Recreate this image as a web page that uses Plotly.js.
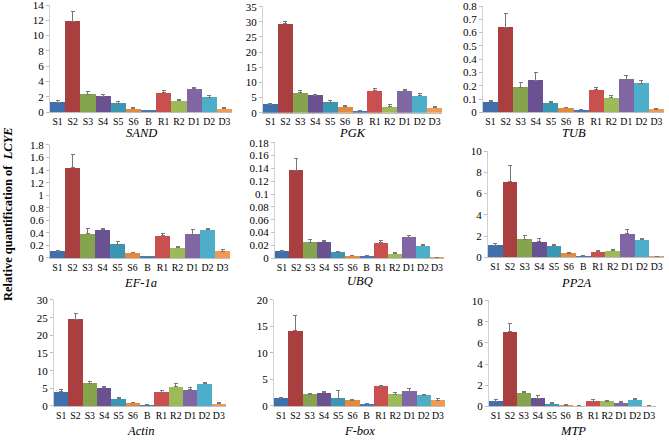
<!DOCTYPE html>
<html>
<head>
<meta charset="utf-8">
<script src="https://cdn.plot.ly/plotly-3.0.1.min.js"></script>
<style>html,body{margin:0;padding:0;background:#fff;}#chart{width:669px;height:440px;}</style>
</head>
<body>
<div id="chart"></div>
<script>
// Categories (samples)
const categories = ["S1","S2","S3","S4","S5","S6","B","R1","R2","D1","D2","D3"];

// Gene names (panel order)
const genes = ["SAND","PGK","TUB","EF-1a","UBQ","PP2A","Actin","F-box","MTP"];

// Relative quantification values per reference gene
const SAND_vals  = [1.3, 11.9, 2.32, 2.06, 1.14, 0.45, 0.2, 2.54, 1.44, 3.06, 1.92, 0.45];
const SAND_err   = [0.25, 1.3, 0.4, 0.2, 0.25, 0.08, 0.05, 0.3, 0.2, 0.2, 0.25, 0.1];
const PGK_vals   = [2.75, 29.3, 6.6, 5.83, 3.5, 1.98, 0.66, 7.26, 1.98, 7.26, 5.6, 1.65];
const PGK_err    = [0.3, 0.7, 0.8, 0.3, 0.4, 0.3, 0.1, 0.7, 0.8, 0.5, 0.8, 0.3];
const TUB_vals   = [0.08, 0.64, 0.188, 0.243, 0.07, 0.033, 0.018, 0.17, 0.108, 0.248, 0.218, 0.023];
const TUB_err    = [0.012, 0.1, 0.04, 0.058, 0.008, 0.004, 0.004, 0.018, 0.022, 0.032, 0.025, 0.004];
const EF1a_vals  = [0.106, 1.44, 0.39, 0.45, 0.222, 0.085, 0.026, 0.355, 0.16, 0.38, 0.45, 0.106];
const EF1a_err   = [0.02, 0.21, 0.075, 0.027, 0.045, 0.01, 0.005, 0.03, 0.02, 0.08, 0.016, 0.026];
const UBQ_vals   = [0.0109, 0.1368, 0.0249, 0.0259, 0.0093, 0.0036, 0.0036, 0.0244, 0.0073, 0.0326, 0.0197, 0.0016];
const UBQ_err    = [0.0015, 0.019, 0.0036, 0.002, 0.001, 0.0005, 0.0005, 0.0026, 0.0015, 0.003, 0.002, 0.0003];
const PP2A_vals  = [1.13, 7.12, 1.69, 1.47, 1.07, 0.38, 0.16, 0.5, 0.6, 2.23, 1.63, 0.09];
const PP2A_err   = [0.2, 1.47, 0.4, 0.28, 0.12, 0.05, 0.04, 0.12, 0.18, 0.34, 0.1, 0.03];
const Actin_vals = [4.06, 24.6, 6.4, 5.2, 2.08, 0.85, 0.3, 3.96, 5.38, 4.62, 6.23, 0.66];
const Actin_err  = [0.66, 1.6, 0.66, 0.3, 0.3, 0.15, 0.1, 0.56, 1.1, 0.56, 0.47, 0.25];
const Fbox_vals  = [1.45, 14.2, 2.2, 2.5, 1.45, 1.13, 0.44, 3.7, 2.2, 2.77, 2.0, 1.13];
const Fbox_err   = [0.2, 2.8, 0.25, 0.3, 1.45, 0.1, 0.05, 0.25, 0.44, 0.44, 0.25, 0.25];
const MTP_vals   = [0.5, 7.07, 1.26, 0.76, 0.25, 0.1, 0.06, 0.5, 0.47, 0.35, 0.6, 0.03];
const MTP_err    = [0.1, 0.8, 0.16, 0.22, 0.07, 0.03, 0.02, 0.12, 0.1, 0.06, 0.12, 0.02];

// Y axis ranges and tick steps per panel
const yMax  = [14, 35, 0.8, 1.8, 0.18, 10, 30, 20, 10];
const yStep = [2, 5, 0.1, 0.2, 0.02, 2, 5, 5, 2];

// Bar colours per category
const barColors = ["#3f6fad","#a93f3f","#86a44d","#6a5192","#3a96b2","#e48a3c",
                   "#4678b8","#c9504e","#9cbb58","#8166a4","#4caec8","#f39a52"];

const allVals = [SAND_vals, PGK_vals, TUB_vals, EF1a_vals, UBQ_vals, PP2A_vals, Actin_vals, Fbox_vals, MTP_vals];
const allErr  = [SAND_err, PGK_err, TUB_err, EF1a_err, UBQ_err, PP2A_err, Actin_err, Fbox_err, MTP_err];

// Panel placement in pixels: [left, right, top, bottom]
const W = 669, H = 440;
const boxes = [
  [50, 232, 5, 112], [263, 442, 6.7, 112.7], [483, 664, 6, 112.3],
  [50, 230, 145, 258], [275, 444, 142.7, 258.3], [488, 664, 151, 257.3],
  [54, 226, 300, 406], [274, 445, 300, 406], [489, 656, 300.7, 406.3]
];
const titleY = [133, 133, 133, 283, 281, 283, 431, 431, 431];

const FONT = "Liberation Serif, Times New Roman, serif";
const traces = [];
const layout = {
  width: W, height: H,
  margin: {l: 0, r: 0, t: 0, b: 0},
  paper_bgcolor: "#fff", plot_bgcolor: "#fff",
  showlegend: false,
  font: {family: FONT, size: 11, color: "#000"},
  bargap: 0,
  annotations: []
};

for (let i = 0; i < 9; i++) {
  const n = i === 0 ? "" : String(i + 1);
  const b = boxes[i];
  const ext = 1.004; // tiny headroom so the top tick is kept
  const topPx = b[3] - (b[3] - b[2]) * ext;
  traces.push({
    type: "bar",
    x: categories,
    y: allVals[i],
    xaxis: "x" + n,
    yaxis: "y" + n,
    marker: {color: barColors, line: {width: 0}},
    error_y: {
      type: "data", array: allErr[i], symmetric: false,
      arrayminus: allErr[i].map(() => 0),
      color: "#777", thickness: 1, width: 2
    },
    hoverinfo: "x+y"
  });
  layout["xaxis" + n] = {
    domain: [b[0] / W, b[1] / W],
    anchor: "y" + n,
    type: "category",
    tickangle: 0,
    ticklabeloverflow: "allow",
    showline: true, linecolor: "#bfbfbf", linewidth: 1,
    ticks: "", showgrid: false, zeroline: false,
    tickfont: {family: FONT, size: 9.8, color: "#000"},
    fixedrange: true
  };
  layout["yaxis" + n] = {
    domain: [1 - b[3] / H, 1 - topPx / H],
    anchor: "x" + n,
    range: [0, yMax[i] * ext],
    dtick: yStep[i], tick0: 0,
    ticklabeloverflow: "allow",
    showline: true, linecolor: "#d0d0d0", linewidth: 1,
    ticks: "outside", ticklen: 3, tickcolor: "#bfbfbf",
    showgrid: false, zeroline: false,
    tickfont: {family: FONT, size: 11, color: "#000"},
    fixedrange: true
  };
  layout.annotations.push({
    xref: "paper", yref: "paper",
    x: (b[0] + b[1]) / 2 / W, y: 1 - titleY[i] / H,
    xanchor: "center", yanchor: "middle",
    text: "<i>" + genes[i] + "</i>",
    showarrow: false,
    font: {family: FONT, size: 12.5, color: "#000"}
  });
}

layout.annotations.push({
  xref: "paper", yref: "paper",
  x: 8 / W, y: 1 - 214 / H,
  xanchor: "center", yanchor: "middle",
  textangle: -90,
  text: "<b>Relative quantification of  <i>LCYE</i></b>",
  showarrow: false,
  font: {family: FONT, size: 12.5, color: "#000"}
});

Plotly.newPlot("chart", traces, layout, {displayModeBar: false, staticPlot: true});
</script>
</body>
</html>
